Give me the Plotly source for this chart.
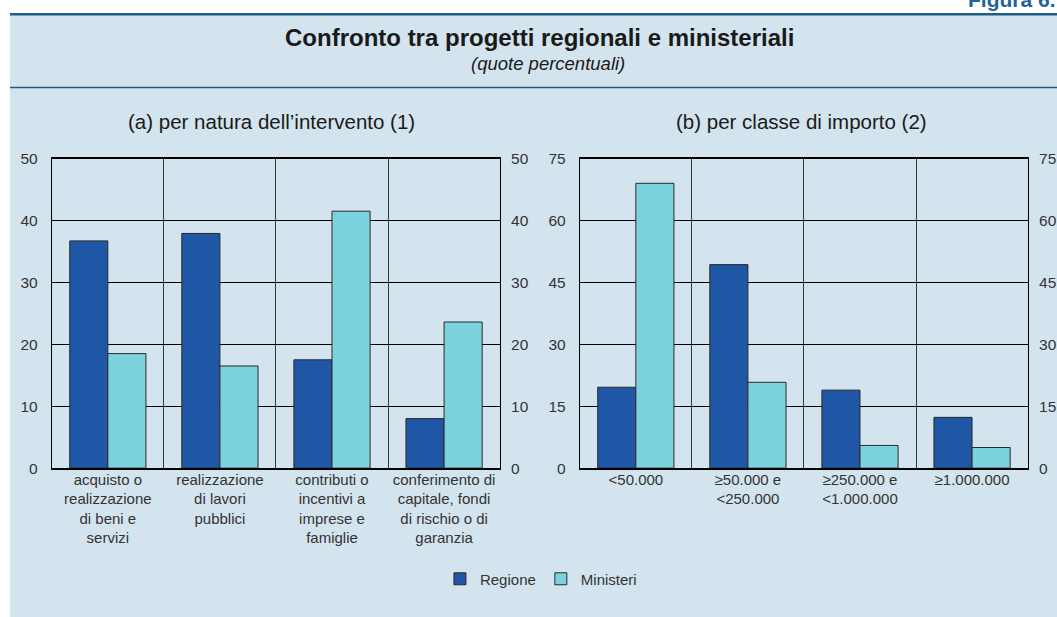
import plotly.graph_objects as go

# --- data -------------------------------------------------------------
natura_labels = [
    "acquisto o<br>realizzazione<br>di beni e<br>servizi",
    "realizzazione<br>di lavori<br>pubblici",
    "contributi o<br>incentivi a<br>imprese e<br>famiglie",
    "conferimento di<br>capitale, fondi<br>di rischio o di<br>garanzia",
]
natura_regione = [36.7, 37.9, 17.5, 8.0]
natura_ministeri = [18.5, 16.5, 41.5, 23.6]

importo_labels = [
    "<50.000",
    "≥50.000 e<br><250.000",
    "≥250.000 e<br><1.000.000",
    "≥1.000.000",
]
importo_regione = [19.6, 49.3, 18.9, 12.3]
importo_ministeri = [69.0, 20.8, 5.5, 5.0]

left_ticks = [0, 10, 20, 30, 40, 50]
right_ticks = [0, 15, 30, 45, 60, 75]

# --- style ------------------------------------------------------------
W, H = 1057, 617
C_REG = "#1f56a5"
C_MIN = "#7bd1dd"
PANEL = "#d3e4ee"
RULE = "#1e5e84"
TXT = "#333333"
FONT = "Liberation Sans, Arial, sans-serif"
TICK = dict(size=15.5, color=TXT, family=FONT)
XTICK = dict(size=15, color=TXT, family=FONT)


def px_x(p):
    return p / W


def py(p):
    # vertical pixel offset from the top edge -> paper fraction
    v = (p - 7.3) / 0.9736
    return 1 - v / H


fig = go.Figure()

bar_line = dict(color="#2a2a2a", width=1)
fig.add_trace(go.Bar(x=natura_labels, y=natura_regione, name="Regione",
                     marker=dict(color=C_REG, line=bar_line),
                     xaxis="x", yaxis="y", legendgroup="r"))
fig.add_trace(go.Bar(x=natura_labels, y=natura_ministeri, name="Ministeri",
                     marker=dict(color=C_MIN, line=bar_line),
                     xaxis="x", yaxis="y", legendgroup="m"))
fig.add_trace(go.Bar(x=importo_labels, y=importo_regione, name="Regione",
                     marker=dict(color=C_REG, line=bar_line),
                     xaxis="x2", yaxis="y2", legendgroup="r", showlegend=False))
fig.add_trace(go.Bar(x=importo_labels, y=importo_ministeri, name="Ministeri",
                     marker=dict(color=C_MIN, line=bar_line),
                     xaxis="x2", yaxis="y2", legendgroup="m", showlegend=False))

dom_y = [py(467), py(157)]
dom_a = [px_x(52), px_x(502)]
dom_b = [px_x(582), px_x(1032)]

xcommon = dict(type="category", tickson="boundaries", showgrid=True,
               gridcolor="#3a3a3a", gridwidth=1, showline=True,
               linecolor="#000000", linewidth=1.5, mirror=True, ticks="",
               tickangle=0, tickfont=XTICK, ticklabelstandoff=-3,
               fixedrange=True)
ycommon = dict(showgrid=True, gridcolor="#000000", gridwidth=1,
               showline=True, linecolor="#000000", linewidth=1, mirror=True,
               zeroline=False, ticks="", ticklabelstandoff=10,
               tickfont=TICK, fixedrange=True)
yright = dict(showgrid=False, zeroline=False, showline=False, ticks="",
              ticklabelstandoff=10, tickfont=TICK, fixedrange=True,
              side="right")

fig.update_layout(
    xaxis=dict(domain=dom_a, anchor="y", **xcommon),
    xaxis2=dict(domain=dom_b, anchor="y2", **xcommon),
    yaxis=dict(domain=dom_y, anchor="x", range=[0, 50],
               tickvals=left_ticks, **ycommon),
    yaxis2=dict(domain=dom_y, anchor="x2", range=[0, 75],
                tickvals=right_ticks, **ycommon),
    yaxis3=dict(overlaying="y", anchor="x", range=[0, 50],
                tickvals=left_ticks, **yright),
    yaxis4=dict(overlaying="y2", anchor="x2", range=[0, 75],
                tickvals=right_ticks, **yright),
    barmode="group",
    bargap=0.32,
    bargroupgap=0,
    width=W, height=H,
    margin=dict(l=0, r=0, t=0, b=0),
    paper_bgcolor="#ffffff",
    plot_bgcolor="#ffffff",
    font=dict(family=FONT, color=TXT),
    showlegend=True,
    legend=dict(orientation="h", x=px_x(543), xanchor="center",
                y=py(578), yanchor="middle", bgcolor="rgba(0,0,0,0)",
                font=dict(size=15, color=TXT, family=FONT),
                itemwidth=30, traceorder="normal"),
)

# transparent copies so the mirrored right-hand axes get drawn
fig.add_trace(go.Bar(x=natura_labels, y=natura_regione, xaxis="x", yaxis="y3",
                     opacity=0, showlegend=False, hoverinfo="skip"))
fig.add_trace(go.Bar(x=importo_labels, y=importo_regione, xaxis="x2", yaxis="y4",
                     opacity=0, showlegend=False, hoverinfo="skip"))

shapes = [
    # light blue panel
    dict(type="rect", xref="paper", yref="paper", layer="below",
         x0=px_x(10), x1=1.01, y0=-0.05, y1=py(13),
         fillcolor=PANEL, line=dict(width=0)),
    # top rule
    dict(type="line", xref="paper", yref="paper",
         x0=px_x(10), x1=1.01, y0=py(12.5), y1=py(12.5),
         line=dict(color=RULE, width=2.5)),
    # rule below the heading
    dict(type="line", xref="paper", yref="paper",
         x0=px_x(10), x1=1.01, y0=py(86), y1=py(86),
         line=dict(color=RULE, width=1.5)),
]
fig.update_layout(shapes=shapes)

annotations = [
    dict(text="<b>Figura 6.</b>", xref="paper", yref="paper",
         x=px_x(1062), y=py(-2), xanchor="right", yanchor="middle",
         showarrow=False, font=dict(size=21, color="#1f6496", family=FONT)),
    dict(text="<b>Confronto tra progetti regionali e ministeriali</b>",
         xref="paper", yref="paper", x=px_x(542), y=py(36),
         xanchor="center", yanchor="middle", showarrow=False,
         font=dict(size=24, color="#1a1a1a", family=FONT)),
    dict(text="<i>(quote percentuali)</i>",
         xref="paper", yref="paper", x=px_x(550), y=py(62),
         xanchor="center", yanchor="middle", showarrow=False,
         font=dict(size=18.5, color="#1a1a1a", family=FONT)),
    dict(text="(a) per natura dell’intervento (1)",
         xref="paper", yref="paper", x=px_x(273), y=py(120),
         xanchor="center", yanchor="middle", showarrow=False,
         font=dict(size=20.5, color="#1a1a1a", family=FONT)),
    dict(text="(b) per classe di importo (2)",
         xref="paper", yref="paper", x=px_x(805), y=py(120),
         xanchor="center", yanchor="middle", showarrow=False,
         font=dict(size=20.5, color="#1a1a1a", family=FONT)),
]
fig.update_layout(annotations=annotations)

fig.write_html("out.html")
